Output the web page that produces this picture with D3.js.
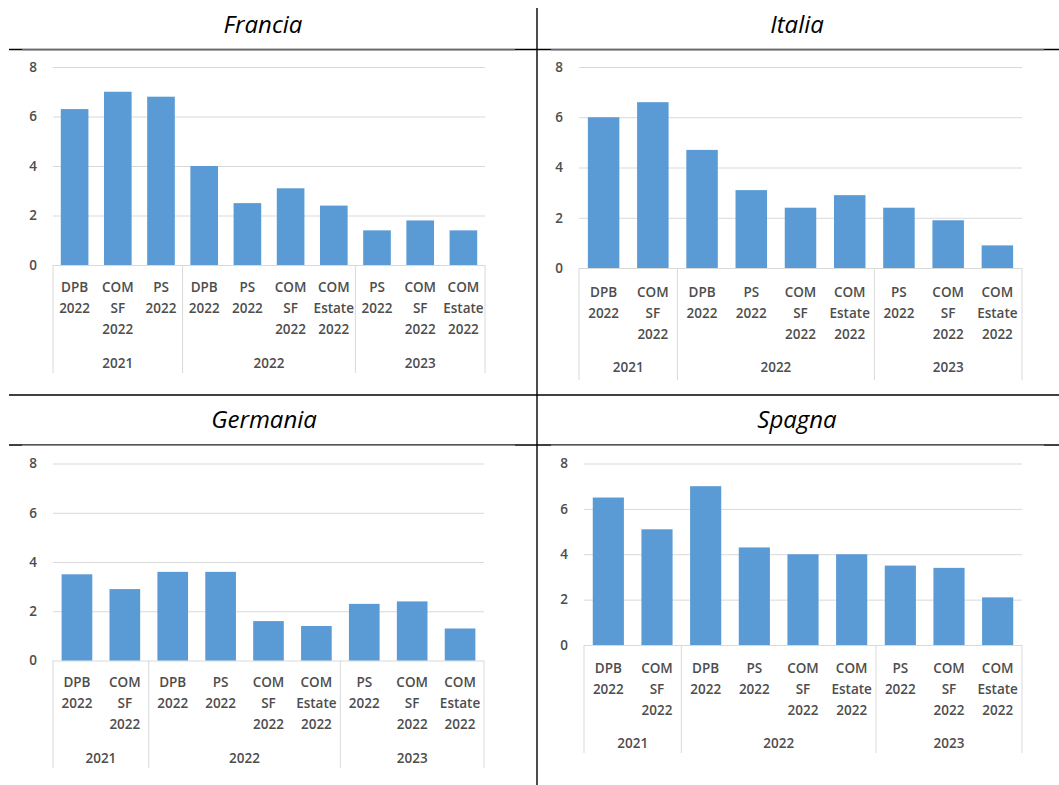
<!DOCTYPE html>
<html>
<head>
<meta charset="utf-8">
<script src="https://cdn.jsdelivr.net/npm/d3@7"></script>
<style>
  html, body { margin: 0; padding: 0; background: #fff; }
  svg { display: block; }
  .tick text { font-family: "Open Sans", sans-serif; font-size: 13.5px; font-weight: 600; }
</style>
</head>
<body>
<svg id="chart" width="1059" height="785"></svg>
<script>
// ---- data ----
const yTicks = [0, 2, 4, 6, 8];

const groupsFrancia = ["2021", "2021", "2021", "2022", "2022", "2022", "2022", "2023", "2023", "2023"];
const labelsFrancia = ["DPB 2022", "COM SF 2022", "PS 2022", "DPB 2022", "PS 2022", "COM SF 2022", "COM Estate 2022", "PS 2022", "COM SF 2022", "COM Estate 2022"];
const valuesFrancia = [6.3, 7.0, 6.8, 4.0, 2.5, 3.1, 2.4, 1.4, 1.8, 1.4];

const groupsOthers = ["2021", "2021", "2022", "2022", "2022", "2022", "2023", "2023", "2023"];
const labelsOthers = ["DPB 2022", "COM SF 2022", "DPB 2022", "PS 2022", "COM SF 2022", "COM Estate 2022", "PS 2022", "COM SF 2022", "COM Estate 2022"];
const valuesItalia = [6.0, 6.6, 4.7, 3.1, 2.4, 2.9, 2.4, 1.9, 0.9];
const valuesGermania = [3.5, 2.9, 3.6, 3.6, 1.6, 1.4, 2.3, 2.4, 1.3];
const valuesSpagna = [6.5, 5.1, 7.0, 4.3, 4.0, 4.0, 3.5, 3.4, 2.1];

// ---- layout of the four panels ----
const panels = [
  { title: "Francia", titleX: 263, titleY: 25, groups: groupsFrancia, labels: labelsFrancia, values: valuesFrancia,
    x0: 53, x1: 485, yTop: 67, yZero: 265, catY: 287, groupY: 363, sepBottom: 373 },
  { title: "Italia", titleX: 797, titleY: 25, groups: groupsOthers, labels: labelsOthers, values: valuesItalia,
    x0: 579, x1: 1022, yTop: 67, yZero: 268, catY: 292, groupY: 367, sepBottom: 380 },
  { title: "Germania", titleX: 264, titleY: 420, groups: groupsOthers, labels: labelsOthers, values: valuesGermania,
    x0: 53, x1: 484, yTop: 463.5, yZero: 660.5, catY: 682, groupY: 758, sepBottom: 768 },
  { title: "Spagna", titleX: 797, titleY: 420, groups: groupsOthers, labels: labelsOthers, values: valuesSpagna,
    x0: 584, x1: 1022, yTop: 463.5, yZero: 645, catY: 668, groupY: 743, sepBottom: 753 }
];

const svg = d3.select("#chart");
const barColor = "#5b9bd5";
const gridColor = "#d9d9d9";
const textColor = "#4d4d4d";
const lineH = 21.3;

// ---- table frame ----
const frame = svg.append("g");
frame.append("line").attr("x1", 537).attr("x2", 537).attr("y1", 8).attr("y2", 785)
  .attr("stroke", "#000").attr("stroke-width", 1.4);
[49.5, 395, 445].forEach(y => {
  frame.append("line").attr("x1", 9).attr("x2", 1059).attr("y1", y).attr("y2", y)
    .attr("stroke", "#000").attr("stroke-width", 1.4);
});
// top edge of the embedded chart images lies over the title rule
[49.8, 445.3].forEach(y => {
  [[22, 515], [551, 1044]].forEach(([a, b]) => {
    frame.append("line").attr("x1", a).attr("x2", b).attr("y1", y).attr("y2", y)
      .attr("stroke", "#8f8f8f").attr("stroke-width", 1.2);
  });
});

// ---- panels ----
panels.forEach(p => {
  const g = svg.append("g");
  const idx = p.values.map((_, i) => i);

  const x = d3.scaleBand().domain(idx).range([p.x0, p.x1])
    .paddingInner(0.36).paddingOuter(0.18);
  const y = d3.scaleLinear().domain([0, 8]).range([p.yZero, p.yTop]);

  // title
  g.append("text")
    .attr("x", p.titleX).attr("y", p.titleY).attr("dy", "0.35em")
    .attr("text-anchor", "middle")
    .attr("font-family", "'Open Sans', sans-serif")
    .attr("font-style", "italic").attr("font-size", 24).attr("fill", "#000")
    .text(p.title);

  // value axis with gridlines
  const yAxis = d3.axisLeft(y).tickValues(yTicks).tickFormat(d3.format("d"))
    .tickSize(-(p.x1 - p.x0)).tickPadding(16);
  const ya = g.append("g").attr("transform", `translate(${p.x0},0)`).call(yAxis);
  ya.select(".domain").remove();
  ya.selectAll(".tick line").attr("stroke", gridColor).attr("stroke-width", 1);
  ya.selectAll(".tick text").attr("fill", textColor);

  // bars
  g.append("g").selectAll("rect").data(p.values).join("rect")
    .attr("x", (d, i) => x(i))
    .attr("width", x.bandwidth())
    .attr("y", d => y(d))
    .attr("height", d => y(0) - y(d))
    .attr("fill", barColor);

  // category labels (wrapped on spaces)
  const cat = g.append("g")
    .attr("font-family", "'Open Sans', sans-serif").attr("font-size", 13.5)
    .attr("font-weight", 600)
    .attr("fill", textColor).attr("text-anchor", "middle");
  p.labels.forEach((lab, i) => {
    const cx = x(i) + x.bandwidth() / 2;
    const t = cat.append("text").attr("x", cx).attr("y", p.catY).attr("dy", "0.35em");
    lab.split(" ").forEach((w, k) => {
      t.append("tspan").attr("x", cx).attr("y", p.catY + k * lineH).attr("dy", "0.35em").text(w);
    });
  });

  // group labels and separators
  const step = x.step();
  const groupNames = Array.from(new Set(p.groups));
  const bounds = [p.x0];
  groupNames.forEach(gn => {
    const first = p.groups.indexOf(gn);
    const last = p.groups.lastIndexOf(gn);
    const gx0 = p.x0 + first * step;
    const gx1 = p.x0 + (last + 1) * step;
    bounds.push(gx1);
    cat.append("text").attr("x", (gx0 + gx1) / 2).attr("y", p.groupY).attr("dy", "0.35em").text(gn);
  });
  g.append("g").selectAll("line").data(bounds).join("line")
    .attr("x1", d => d).attr("x2", d => d)
    .attr("y1", p.yZero).attr("y2", p.sepBottom)
    .attr("stroke", gridColor).attr("stroke-width", 1);
});
</script>
</body>
</html>
